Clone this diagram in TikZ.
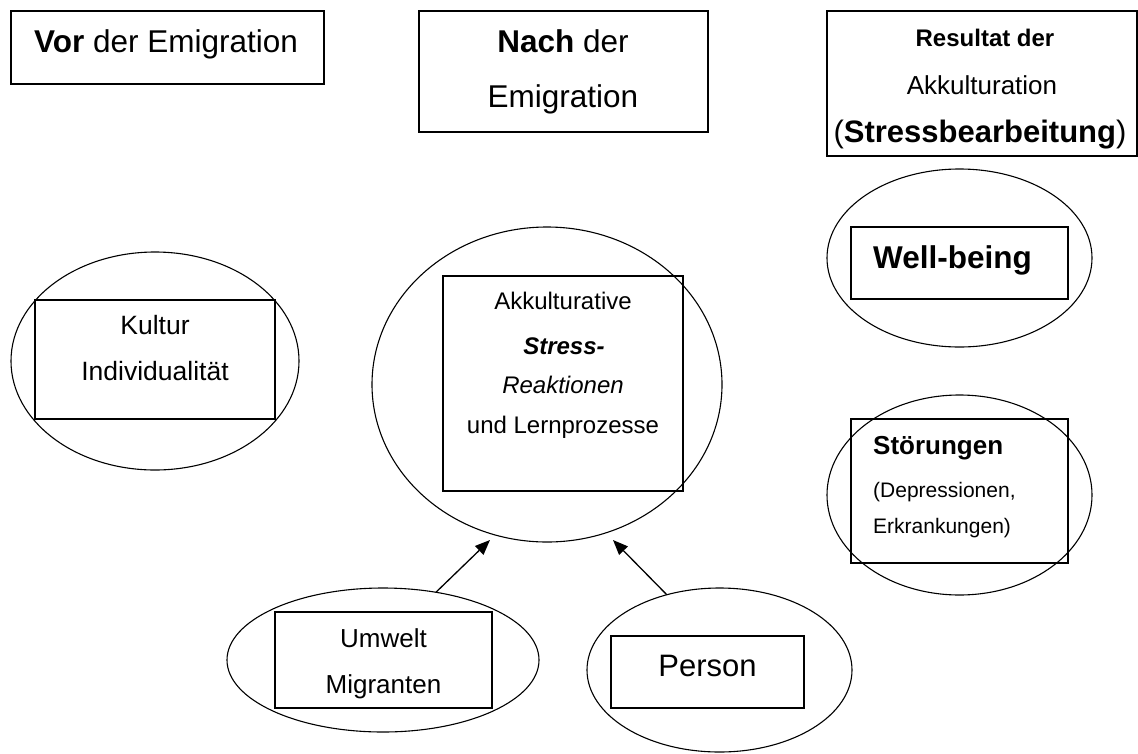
\documentclass[tikz,border=0pt]{standalone}
\usepackage{fontspec}
\setmainfont{Liberation Sans}
\usetikzlibrary{shapes.geometric,arrows.meta}
\newcommand{\fs}[1]{\fontsize{#1}{#1}\selectfont}
\begin{document}
\begin{tikzpicture}[x=1pt,y=-1pt,
  rbox/.style={draw, line width=1.6pt, inner sep=0pt, outer sep=0pt},
  oval/.style={draw, ellipse, line width=1.1pt, inner sep=0pt, outer sep=0pt},
  txt/.style={anchor=base, inner sep=0pt},
  ltxt/.style={anchor=base west, inner sep=0pt},
  arr/.style={line width=1.3pt, -{Triangle[length=15pt,width=12pt]}}]
\useasboundingbox (0,0) rectangle (1138,753);

% top header boxes
\node[rbox, minimum width=313pt, minimum height=73pt] (vorB) at (167.5,47.5) {};
\node[txt, font=\fs{31.5}] (vorT) at (166,52) {\textbf{Vor} der Emigration};

\node[rbox, minimum width=289pt, minimum height=121pt] (nachB) at (563.5,71.5) {};
\node[txt, font=\fs{31.5}] (nachT1) at (563,52) {\textbf{Nach} der};
\node[txt, font=\fs{31.5}] (nachT2) at (563,107) {Emigration};

\node[rbox, minimum width=310pt, minimum height=145pt] (resB) at (982,83.5) {};
\node[txt, font=\fs{24}] (resT1) at (985,46) {\textbf{Resultat der}};
\node[txt, font=\fs{26}] (resT2) at (982,94) {Akkulturation};
\node[txt, font=\fs{31}] (resT3) at (980,142) {(\textbf{Stressbearbeitung})};

% ellipses
\node[oval, minimum width=288pt, minimum height=218pt] (kulturE) at (155,361) {};
\node[oval, minimum width=350pt, minimum height=315pt] (centerE) at (547,384.5) {};
\node[oval, minimum width=265pt, minimum height=178pt] (wellE) at (959.5,258) {};
\node[oval, minimum width=265pt, minimum height=200pt] (stoerE) at (959.5,495) {};
\node[oval, minimum width=312pt, minimum height=144pt] (umweltE) at (383,660) {};
\node[oval, minimum width=265pt, minimum height=164pt] (personE) at (719.5,670) {};

% inner boxes
\node[rbox, minimum width=240pt, minimum height=119pt] (kulturB) at (155,359.5) {};
\node[txt, font=\fs{26.5}] (kulturT1) at (155,334) {Kultur};
\node[txt, font=\fs{26.5}] (kulturT2) at (155,380) {Individualität};

\node[rbox, minimum width=240pt, minimum height=215pt] (centerB) at (563,383.5) {};
\node[txt, font=\fs{24}] (centerT1) at (563,309) {Akkulturative};
\node[txt, font=\fs{24}] (centerT2) at (564,354) {\textbf{\textit{Stress-}}};
\node[txt, font=\fs{24}] (centerT3) at (563,393) {\textit{Reaktionen}};
\node[txt, font=\fs{24}] (centerT4) at (563,433) {und Lernprozesse};

\node[rbox, minimum width=217pt, minimum height=72pt] (wellB) at (959.5,263) {};
\node[ltxt, font=\fs{31.5}] (wellT) at (873,268) {\textbf{Well-being}};

\node[rbox, minimum width=217pt, minimum height=144pt] (stoerB) at (959.5,491) {};
\node[ltxt, font=\fs{26}] (stoerT1) at (873,454) {\textbf{Störungen}};
\node[ltxt, font=\fs{21}] (stoerT2) at (873,497) {(Depressionen,};
\node[ltxt, font=\fs{21}] (stoerT3) at (873,533) {Erkrankungen)};

\node[rbox, minimum width=217pt, minimum height=96pt] (umweltB) at (383.5,660) {};
\node[txt, font=\fs{26}] (umweltT1) at (383.5,647) {Umwelt};
\node[txt, font=\fs{26}] (umweltT2) at (383.5,693) {Migranten};

\node[rbox, minimum width=193pt, minimum height=72pt] (personB) at (707.5,672) {};
\node[txt, font=\fs{31}] (personT) at (707.5,676) {Person};

% arrows
\coordinate (t1) at (490,540);
\coordinate (t2) at (613,540);
\draw[arr] (umweltE.52) -- (t1);
\draw[arr] (personE.125) -- (t2);
\end{tikzpicture}
\end{document}
